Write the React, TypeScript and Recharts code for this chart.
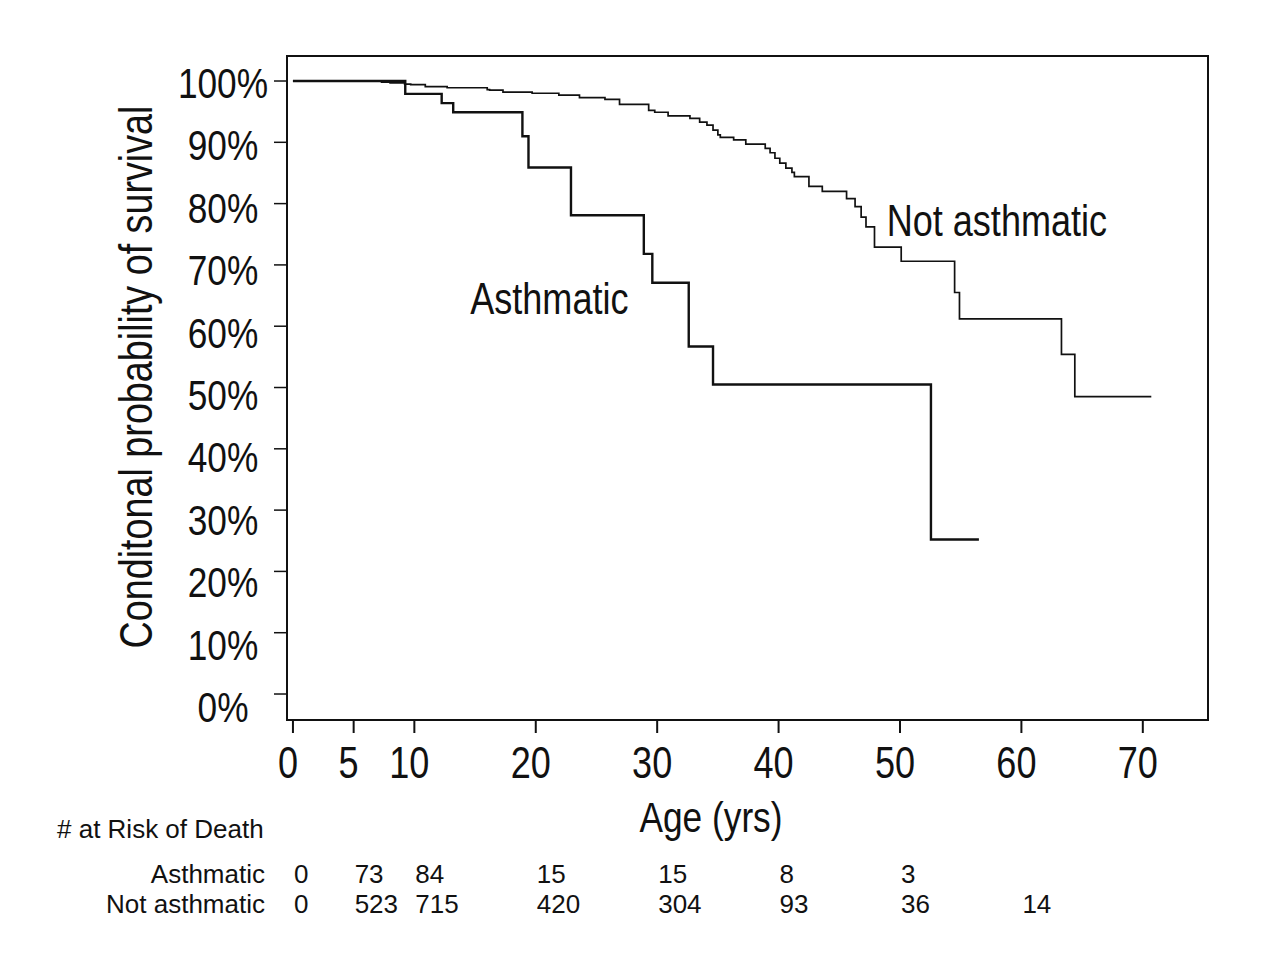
import React from 'react';
import {
  LineChart,
  Line,
  XAxis,
  YAxis,
  ReferenceArea,
  ReferenceDot,
} from 'recharts';

// Kaplan-Meier style step curves (age in yrs, survival %)
const asthmaticAges = [0, 9.25, 12.25, 13.2, 18.9, 19.4, 22.9, 28.9, 29.6, 32.6, 34.6, 52.55, 56.5];
const asthmaticSurvival = [100, 97.9, 96.4, 94.9, 91.0, 85.9, 78.1, 71.8, 67.1, 56.7, 50.5, 25.2, 25.2];

const notAsthmaticAges = [
  0, 7.3, 8.0, 9.2, 9.7, 10.9, 12.7, 16.0, 16.2, 17.3, 19.7, 21.9, 23.6, 25.7, 26.9, 29.3,
  29.8, 30.9, 32.7, 33.5, 34.1, 34.6, 35.0, 35.2, 36.3, 37.3, 38.9, 39.3, 39.7, 40.1, 40.6,
  41.1, 41.3, 42.5, 43.6, 45.6, 46.3, 46.8, 47.2, 47.9, 50.1, 54.5, 54.9, 63.3, 64.4, 70.7,
];
const notAsthmaticSurvival = [
  100, 99.8, 99.7, 99.5, 99.4, 99.1, 98.9, 98.6, 98.5, 98.2, 98.0, 97.7, 97.3, 97.0, 96.2, 95.2,
  94.9, 94.3, 93.9, 93.3, 92.8, 92.0, 91.2, 90.8, 90.4, 89.7, 89.0, 88.3, 87.4, 86.6, 85.8,
  85.1, 84.4, 82.8, 82.0, 80.8, 79.5, 77.8, 76.2, 72.9, 70.6, 65.5, 61.2, 55.4, 48.5, 48.5,
];

const xTicks = [0, 5, 10, 20, 30, 40, 50, 60, 70];
const yTicks = [0, 10, 20, 30, 40, 50, 60, 70, 80, 90, 100];

// numbers at risk, one entry per x tick
const asthmaticAtRisk = ['0', '73', '84', '15', '15', '8', '3', '', ''];
const notAsthmaticAtRisk = ['0', '523', '715', '420', '304', '93', '36', '14', ''];

const X_DOMAIN: [number, number] = [-0.49, 75.37];
const Y_DOMAIN: [number, number] = [-4.24, 104.08];

const asthmaticData = asthmaticAges.map((age, i) => ({ age, surv: asthmaticSurvival[i] }));
const notAsthmaticData = notAsthmaticAges.map((age, i) => ({ age, surv: notAsthmaticSurvival[i] }));

const FONT = "'Liberation Sans', Arial, Helvetica, sans-serif";
const INK = '#111';

// condensed text: regular sans squeezed horizontally, like Helvetica Narrow
function Narrow({ x, y, size, anchor = 'start', rotate = 0, children }: any) {
  return (
    <text
      transform={`translate(${x},${y}) rotate(${rotate}) scale(0.82,1)`}
      textAnchor={anchor}
      fontFamily={FONT}
      fontSize={size}
      fill={INK}
    >
      {children}
    </text>
  );
}

function XTick(props: any) {
  const { x, y, payload, index } = props;
  const i = index ?? xTicks.indexOf(payload.value);
  return (
    <g>
      <Narrow x={x - 5} y={y + 43} size={44} anchor="middle">
        {payload.value}
      </Narrow>
      <text x={x + 1} y={y + 148} fontFamily={FONT} fontSize={26} fill={INK}>
        {asthmaticAtRisk[i]}
      </text>
      <text x={x + 1} y={y + 178} fontFamily={FONT} fontSize={26} fill={INK}>
        {notAsthmaticAtRisk[i]}
      </text>
      {i === 0 && (
        <g fontFamily={FONT} fontSize={26} fill={INK}>
          <text x={57} y={y + 103}># at Risk of Death</text>
          <text x={265} y={y + 148} textAnchor="end">Asthmatic</text>
          <text x={265} y={y + 178} textAnchor="end">Not asthmatic</text>
        </g>
      )}
    </g>
  );
}

function YTick(props: any) {
  const { x, y, payload } = props;
  const v = payload.value;
  const shift = 17 + (100 - v) * 0.11;
  return (
    <Narrow x={x - 49} y={y + shift} size={43} anchor="middle">
      {v}%
    </Narrow>
  );
}

function YLabel(props: any) {
  const { viewBox } = props;
  const cx = 152;
  const cy = viewBox.y + viewBox.height / 2 - 11;
  return (
    <Narrow x={cx} y={cy} size={46} anchor="middle" rotate={-90}>
      Conditonal probability of survival
    </Narrow>
  );
}

function XLabel(props: any) {
  const { viewBox } = props;
  return (
    <Narrow x={711} y={viewBox.y + 112} size={43} anchor="middle">
      Age (yrs)
    </Narrow>
  );
}

const note = (label: string) => (p: any) => (
  <Narrow x={p.cx} y={p.cy} size={44}>
    {label}
  </Narrow>
);

export default function App() {
  return (
    <div style={{ position: 'absolute', left: 0, top: 0, width: 1280, height: 971, background: '#fff' }}>
      <LineChart width={1280} height={971} margin={{ top: 56, right: 72, bottom: 191, left: 0 }}>
        <XAxis
          dataKey="age"
          type="number"
          domain={X_DOMAIN}
          ticks={xTicks}
          allowDataOverflow
          height={60}
          tickSize={13}
          axisLine={{ stroke: INK, strokeWidth: 2 }}
          tickLine={{ stroke: INK, strokeWidth: 2 }}
          tick={<XTick />}
          interval={0}
          label={<XLabel />}
        />
        <YAxis
          dataKey="surv"
          type="number"
          domain={Y_DOMAIN}
          ticks={yTicks}
          allowDataOverflow
          width={287}
          tickSize={13}
          axisLine={{ stroke: INK, strokeWidth: 2 }}
          tickLine={{ stroke: INK, strokeWidth: 1.5 }}
          tick={<YTick />}
          interval={0}
          label={<YLabel />}
        />
        <ReferenceArea
          x1={X_DOMAIN[0]}
          x2={X_DOMAIN[1]}
          y1={Y_DOMAIN[0]}
          y2={Y_DOMAIN[1]}
          fill="none"
          stroke={INK}
          strokeWidth={2}
          ifOverflow="visible"
        />
        <Line
          data={notAsthmaticData}
          dataKey="surv"
          type="stepAfter"
          stroke={INK}
          strokeWidth={1.7}
          dot={false}
          isAnimationActive={false}
        />
        <Line
          data={asthmaticData}
          dataKey="surv"
          type="stepAfter"
          stroke={INK}
          strokeWidth={2.4}
          dot={false}
          isAnimationActive={false}
        />
        <ReferenceDot x={48.9} y={74.7} ifOverflow="visible" shape={note('Not asthmatic')} />
        <ReferenceDot x={14.6} y={62.0} ifOverflow="visible" shape={note('Asthmatic')} />
      </LineChart>
    </div>
  );
}
